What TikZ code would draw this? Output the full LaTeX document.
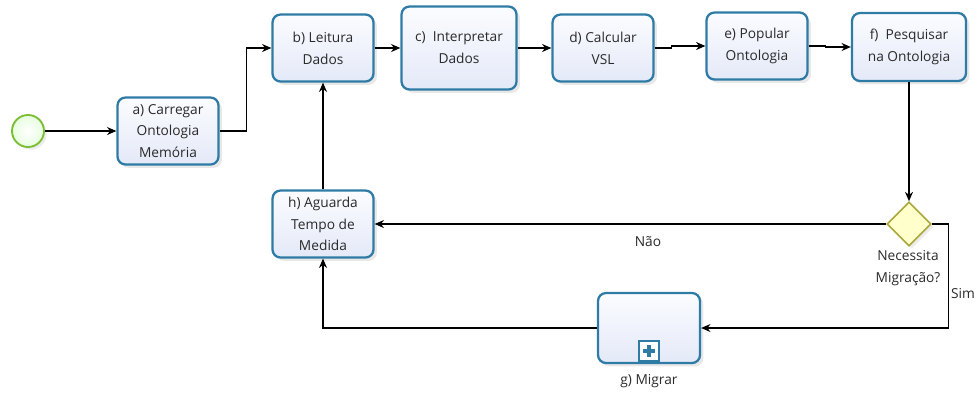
\documentclass[tikz,border=0pt]{standalone}
\usepackage{fontspec}
\setmainfont{Open Sans}
\usetikzlibrary{arrows.meta,shapes.geometric,shadows,calc}
\definecolor{boxborder}{HTML}{2E7BA6}
\definecolor{boxtop}{HTML}{FBFCFF}
\definecolor{boxbot}{HTML}{E4E9F8}
\definecolor{diaborder}{HTML}{A8A83A}
\definecolor{diafill}{HTML}{FFFFCC}
\definecolor{startborder}{HTML}{7CBD34}
\definecolor{startfill}{HTML}{F2FADB}
\definecolor{txt}{HTML}{2A2A2A}
\tikzset{
  task/.style={draw=boxborder, line width=1.7pt, rounded corners=6pt,
    top color=boxtop, bottom color=boxbot, align=center, inner sep=0pt,
    minimum width=101*0.75pt, minimum height=67*0.75pt, text=txt,
    font=\fontsize{10.3pt}{16.3pt}\selectfont,
    drop shadow={opacity=0.18, shadow xshift=2.5pt, shadow yshift=-2.5pt}},
  gate/.style={diamond, draw=diaborder, line width=1.2pt, fill=diafill,
    minimum width=44*0.75pt, minimum height=44*0.75pt, inner sep=0pt,
    drop shadow={opacity=0.15, shadow xshift=2pt, shadow yshift=-2pt}},
  startev/.style={circle, draw=startborder, line width=1.4pt,
    inner color=white, outer color=startfill!80!green!40,
    minimum size=32*0.75pt, inner sep=0pt,
    drop shadow={opacity=0.15, shadow xshift=2pt, shadow yshift=-2pt}},
  flow/.style={draw=black, line width=0.9pt, -{Stealth[length=7pt,width=6pt]}},
  lbl/.style={text=txt, font=\fontsize{10.3pt}{16.3pt}\selectfont, align=center, inner sep=0pt},
}
\begin{document}
\begin{tikzpicture}[x=0.75pt,y=-0.75pt]
\useasboundingbox (0,0) rectangle (978,394);
\node[startev] (s) at (28,131) {};
\node[task] (a) at (168,131) {a) Carregar\\Ontologia\\Memória};
\node[task] (b) at (323,48) {b) Leitura\\Dados};
\node[task, minimum width=115*0.75pt, minimum height=83*0.75pt] (c) at (459,48) {c)\ \ Interpretar\\Dados};
\node[task] (d) at (603,48) {d) Calcular\\VSL};
\node[task] (e) at (757,46) {e) Popular\\Ontologia};
\node[task, minimum width=114*0.75pt, minimum height=68*0.75pt] (f) at (909,47) {f)\ \ Pesquisar\\na Ontologia};
\node[gate] (dia) at (909,224) {};
\node[task] (h) at (323,224) {h) Aguarda\\Tempo de\\Medida};
\node[task, minimum width=102*0.75pt, minimum height=70*0.75pt] (g) at (649,328) {};
\node[draw=boxborder, line width=1.3pt, fill=white, minimum size=20*0.75pt, inner sep=0pt] (gm) at (649,351) {};
\fill[boxborder] ($(gm.center)+(-6,-2)$) rectangle ($(gm.center)+(6,2)$);
\fill[boxborder] ($(gm.center)+(-2,-6)$) rectangle ($(gm.center)+(2,6)$);
\node[lbl] (gl) at (649,381) {g) Migrar};
\node[lbl] (dl) at (908,268) {Necessita\\Migração?};
\node[lbl] (nao) at (648,242) {Não};
\node[lbl] (sim) at (963,294) {Sim};

\draw[flow] (s) -- (a);
\draw[flow] (a.east) -- ++(27,0) |- (b.west);
\draw[flow] (b) -- (c);
\draw[flow] (c.east |- b.east) -- (d.west);
\draw[flow] (d.east) -- ++(17,0) |- (e.west);
\draw[flow] (e.east) -- ++(17,0) |- (f.west);
\draw[flow] (f.south) -- (dia.north);
\draw[flow] (dia.west) -- (h.east);
\draw[flow] (dia.east) -- ++(17,0) |- (g.east);
\draw[flow] (g.west) -| (h.south);
\draw[flow] (h.north) -- (b.south);
\end{tikzpicture}
\end{document}
